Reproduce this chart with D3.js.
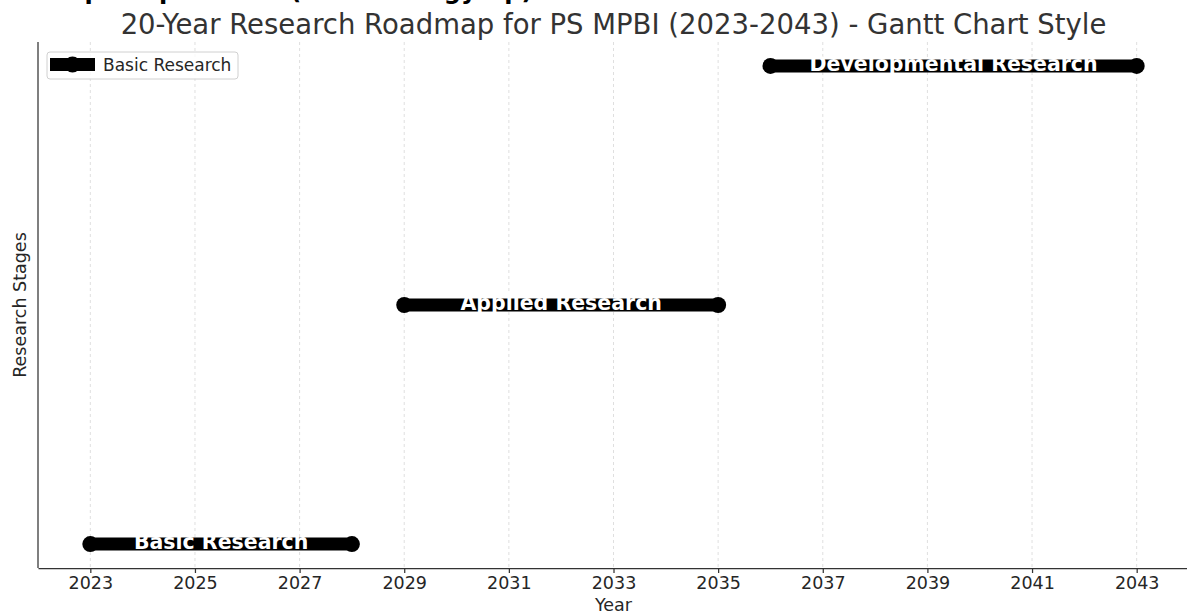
<!DOCTYPE html>
<html>
<head>
<meta charset="utf-8">
<script src="https://cdn.jsdelivr.net/npm/d3@7"></script>
<style>
  body { margin: 0; background: #fff; }
  svg text { font-family: "DejaVu Sans", sans-serif; }
</style>
</head>
<body>
<svg id="chart" width="1187" height="614"></svg>
<script>
// data
const stages = ["Basic Research", "Applied Research", "Developmental Research"];
const startYears = [2023, 2029, 2036];
const endYears = [2028, 2035, 2043];
const tickYears = [2023, 2025, 2027, 2029, 2031, 2033, 2035, 2037, 2039, 2041, 2043];

const margin = { top: 42, right: 0, bottom: 46, left: 38 },
      width = 1189 - margin.left - margin.right,
      height = 568 - margin.top;

const svg = d3.select("#chart");

// heading cut off at the top of the screenshot (only descenders show)
svg.append("text")
  .attr("x", -25)
  .attr("y", -1.5)
  .style("font-size", "24px")
  .style("font-weight", "bold")
  .attr("fill", "#000")
  .text("Roadmap Output Riset (Tim Strategy Up)");

const g = svg.append("g")
  .attr("transform", `translate(${margin.left},${margin.top})`);

const x = d3.scaleLinear().domain([2022, 2044]).range([0, width]);

// categorical y with matplotlib-like margins
const y = d3.scaleLinear().domain([-0.1, stages.length - 1 + 0.1]).range([height, 0]);

// grid
g.append("g")
  .selectAll("line")
  .data(tickYears)
  .join("line")
    .attr("x1", d => x(d)).attr("x2", d => x(d))
    .attr("y1", 0).attr("y2", height)
    .attr("stroke", "#b0b0b0")
    .attr("stroke-opacity", 0.5)
    .attr("stroke-width", 0.8)
    .attr("stroke-dasharray", "3,3");

// x axis
const xAxis = g.append("g")
  .attr("transform", `translate(0,${height})`)
  .call(d3.axisBottom(x).tickValues(tickYears).tickFormat(d3.format("d"))
    .tickSize(5).tickSizeOuter(0).tickPadding(4));
xAxis.select(".domain").attr("stroke", "#333").attr("stroke-width", 1.25);
xAxis.selectAll(".tick line").attr("stroke", "#333").attr("stroke-width", 1.25);
xAxis.selectAll("text")
  .style("font-size", "17.5px")
  .attr("fill", "#262626");

// left spine
g.append("line")
  .attr("x1", 0).attr("x2", 0)
  .attr("y1", 0).attr("y2", height)
  .attr("stroke", "#333")
  .attr("stroke-width", 1.25);

// bars
const rows = stages.map((s, i) => ({ stage: s, start: startYears[i], end: endYears[i], idx: i }));

g.append("g")
  .selectAll("line")
  .data(rows)
  .join("line")
    .attr("x1", d => x(d.start)).attr("x2", d => x(d.end))
    .attr("y1", d => y(d.idx)).attr("y2", d => y(d.idx))
    .attr("stroke", "#000")
    .attr("stroke-width", 13);

const ends = rows.flatMap(d => [{ v: d.start, idx: d.idx }, { v: d.end, idx: d.idx }]);
g.append("g")
  .selectAll("circle")
  .data(ends)
  .join("circle")
    .attr("cx", d => x(d.v))
    .attr("cy", d => y(d.idx))
    .attr("r", 8)
    .attr("fill", "#000");

g.append("g")
  .selectAll("text")
  .data(rows)
  .join("text")
    .attr("x", d => x((d.start + d.end) / 2))
    .attr("y", d => y(d.idx) + 5)
    .attr("text-anchor", "middle")
    .style("font-size", "20.5px")
    .style("font-weight", "bold")
    .attr("fill", "#fff")
    .text(d => d.stage);

// axis labels
g.append("text")
  .attr("x", width / 2)
  .attr("y", height + 43)
  .attr("text-anchor", "middle")
  .style("font-size", "17.5px")
  .attr("fill", "#262626")
  .text("Year");

g.append("text")
  .attr("transform", "rotate(-90)")
  .attr("x", -height / 2)
  .attr("y", -12)
  .attr("text-anchor", "middle")
  .style("font-size", "17.5px")
  .attr("fill", "#262626")
  .text("Research Stages");

// title
svg.append("text")
  .attr("x", margin.left + width / 2)
  .attr("y", 34)
  .attr("text-anchor", "middle")
  .style("font-size", "27.5px")
  .attr("fill", "#333")
  .text("20-Year Research Roadmap for PS MPBI (2023-2043) - Gantt Chart Style");

// legend
const lg = svg.append("g").attr("transform", "translate(47,52)");
lg.append("rect")
  .attr("width", 191).attr("height", 27)
  .attr("rx", 3)
  .attr("fill", "#fff")
  .attr("fill-opacity", 0.8)
  .attr("stroke", "#d0d0d0");
lg.append("line")
  .attr("x1", 3).attr("x2", 48)
  .attr("y1", 12.5).attr("y2", 12.5)
  .attr("stroke", "#000")
  .attr("stroke-width", 13);
lg.append("circle")
  .attr("cx", 25.5).attr("cy", 12.5).attr("r", 8).attr("fill", "#000");
lg.append("text")
  .attr("x", 56).attr("y", 19)
  .style("font-size", "17px")
  .attr("fill", "#262626")
  .text(stages[0]);
</script>
</body>
</html>
